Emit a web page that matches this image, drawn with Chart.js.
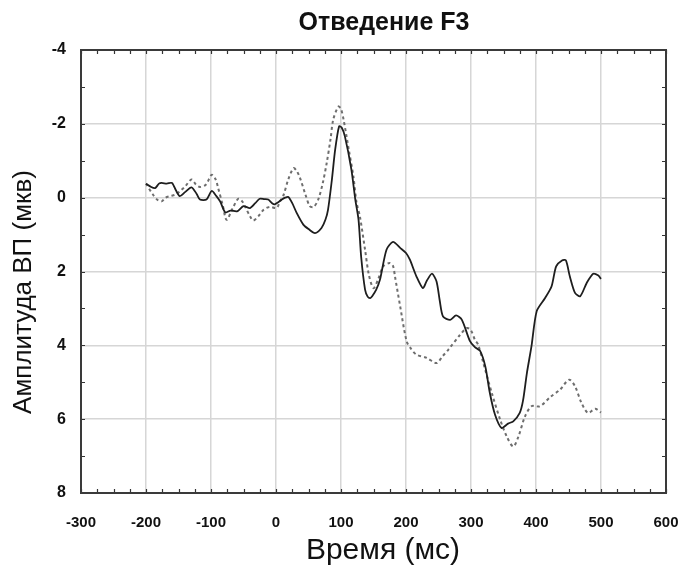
<!DOCTYPE html>
<html>
<head>
<meta charset="utf-8">
<script src="https://cdn.jsdelivr.net/npm/chart.js@4/dist/chart.umd.min.js"></script>
<style>
  html, body { margin: 0; padding: 0; background: #ffffff; }
  #wrap { width: 684px; height: 566px; position: relative; }
</style>
</head>
<body>
<div id="wrap"><canvas id="c" width="684" height="566"></canvas></div>
<script>
const chartTitle = "Отведение F3";
const xAxisTitle = "Время (мс)";
const yAxisTitle = "Амплитуда ВП (мкв)";
const xTickValues = [-300, -200, -100, 0, 100, 200, 300, 400, 500, 600];
const yTickValues = [-4, -2, 0, 2, 4, 6, 8];

const solidTimes = [-200,-193,-186,-180,-176,-168,-160,-154,-148,-140,-130,-122,-117,-107,-99,-92,-86,-78,-70,-60,-50,-40,-32,-25,-18,-12,-6,-2,4,9,14,19,25,32,42,50,60,70,76,80,86,91,97,101,106,116,122,127,131,137,141,145,148,154,160,170,180,191,200,206,216,226,232,240,247,252,257,268,277,286,298,306,314,322,329,337,347,357,365,375,380,386,393,401,414,424,431,440,446,452,460,468,478,488,496,500];
const solidValues = [-0.38,-0.30,-0.26,-0.38,-0.40,-0.38,-0.40,-0.20,-0.04,-0.15,-0.28,-0.10,0.05,0.05,-0.18,-0.05,0.10,0.40,0.35,0.37,0.23,0.28,0.15,0.03,0.04,0.05,0.15,0.18,0.12,0.05,0.00,-0.02,0.15,0.42,0.73,0.85,0.96,0.82,0.60,0.33,-0.49,-1.30,-1.93,-1.90,-1.66,-0.76,0.05,0.60,1.60,2.49,2.68,2.72,2.67,2.50,2.22,1.41,1.20,1.36,1.50,1.68,2.13,2.45,2.25,2.06,2.27,2.80,3.22,3.31,3.19,3.31,3.87,4.05,4.15,4.57,5.29,5.88,6.24,6.12,6.06,5.83,5.50,4.75,4.03,3.08,2.72,2.40,1.86,1.70,1.70,2.13,2.58,2.67,2.31,2.06,2.11,2.20];

const dashedTimes = [-200,-190,-183,-176,-170,-163,-155,-148,-140,-130,-123,-117,-108,-99,-93,-89,-82,-76,-67,-58,-52,-48,-40,-35,-27,-19,-10,1,6,11,19,27,32,37,45,52,58,65,72,78,84,88,96,100,104,112,119,124,129,137,143,150,157,165,175,180,183,191,201,208,216,232,247,256,265,283,294,300,306,311,319,332,345,355,365,373,383,393,406,422,437,451,460,470,480,491,500];
const dashedValues = [-0.38,-0.10,0.05,0.10,0.00,-0.04,-0.08,-0.17,-0.30,-0.49,-0.35,-0.29,-0.35,-0.62,-0.50,-0.26,0.20,0.60,0.30,0.03,0.10,0.23,0.50,0.62,0.50,0.33,0.25,0.28,0.10,-0.04,-0.50,-0.80,-0.72,-0.53,-0.10,0.23,0.25,0.05,-0.40,-0.94,-1.60,-2.11,-2.47,-2.40,-2.11,-1.30,-0.58,0.14,0.50,1.41,2.10,2.45,2.22,1.86,1.77,1.85,2.13,2.94,3.89,4.10,4.25,4.34,4.48,4.30,4.12,3.72,3.53,3.60,3.85,3.98,4.48,5.29,6.02,6.47,6.74,6.47,5.93,5.65,5.65,5.40,5.20,4.93,5.11,5.56,5.83,5.72,5.82];

function toPoints(ts, vs) { return ts.map((t, i) => ({ x: t, y: vs[i] })); }

const frameAndText = {
  id: 'frameAndText',
  afterDraw(chart) {
    const ctx = chart.ctx;
    const a = chart.chartArea;
    const xs = chart.scales.x, ys = chart.scales.y;
    ctx.save();
    ctx.strokeStyle = '#333';
    ctx.lineWidth = 1.2;
    ctx.beginPath();
    for (let t = xTickValues[0]; t <= xTickValues[xTickValues.length - 1]; t += 25) {
      const px = Math.round(xs.getPixelForValue(t)) + 0.5;
      ctx.moveTo(px, a.bottom); ctx.lineTo(px, a.bottom - 4);
      ctx.moveTo(px, a.top); ctx.lineTo(px, a.top + 4);
    }
    for (let v = yTickValues[0]; v <= yTickValues[yTickValues.length - 1]; v += 1) {
      const py = Math.round(ys.getPixelForValue(v)) + 0.5;
      ctx.moveTo(a.left, py); ctx.lineTo(a.left + 4, py);
      ctx.moveTo(a.right, py); ctx.lineTo(a.right - 4, py);
    }
    ctx.stroke();
    ctx.strokeStyle = '#3a3a3a';
    ctx.lineWidth = 2;
    ctx.strokeRect(a.left, a.top, a.right - a.left, a.bottom - a.top);
    ctx.fillStyle = '#111';
    ctx.textAlign = 'center';
    ctx.textBaseline = 'middle';
    ctx.font = 'bold 25px "Liberation Sans", Arial, sans-serif';
    ctx.fillText(chartTitle, 384, 23);
    ctx.font = '30px "Liberation Sans", Arial, sans-serif';
    ctx.fillText(xAxisTitle, 383, 551);
    ctx.translate(24, 292);
    ctx.rotate(-Math.PI / 2);
    ctx.font = '26px "Liberation Sans", Arial, sans-serif';
    ctx.fillText(yAxisTitle, 0, 0);
    ctx.restore();
  }
};

new Chart(document.getElementById('c'), {
  type: 'line',
  data: {
    datasets: [
      {
        label: 'solid',
        data: toPoints(solidTimes, solidValues),
        borderColor: '#1e1e1e',
        borderWidth: 1.8,
        pointRadius: 0,
        tension: 0.25,
        fill: false
      },
      {
        label: 'dashed',
        data: toPoints(dashedTimes, dashedValues),
        borderColor: '#6e6e6e',
        borderWidth: 2,
        borderDash: [3, 3],
        pointRadius: 0,
        tension: 0.3,
        fill: false
      }
    ]
  },
  options: {
    responsive: false,
    animation: false,
    devicePixelRatio: 1,
    layout: { padding: { top: 50, right: 0, bottom: 0, left: 0 } },
    plugins: {
      legend: { display: false },
      tooltip: { enabled: false },
      title: { display: false }
    },
    scales: {
      x: {
        type: 'linear',
        min: -300,
        max: 600,
        afterBuildTicks(scale) { scale.ticks = xTickValues.map(v => ({ value: v })); },
        afterFit(scale) { scale.height = 73; scale.paddingRight = 18; },
        grid: { color: '#d6d6d6', lineWidth: 1.5, drawTicks: false },
        border: { display: false },
        ticks: {
          color: '#111',
          padding: 21,
          maxRotation: 0,
          autoSkip: false,
          font: { family: '"Liberation Sans", Arial, sans-serif', size: 15, weight: 'bold' }
        }
      },
      y: {
        type: 'linear',
        reverse: true,
        min: -4,
        max: 8,
        afterBuildTicks(scale) { scale.ticks = yTickValues.map(v => ({ value: v })); },
        afterFit(scale) { scale.width = 81; },
        grid: { color: '#d6d6d6', lineWidth: 1.5, drawTicks: false },
        border: { display: false },
        ticks: {
          color: '#111',
          padding: 15,
          autoSkip: false,
          font: { family: '"Liberation Sans", Arial, sans-serif', size: 16, weight: 'bold' }
        }
      }
    }
  },
  plugins: [frameAndText]
});
</script>
</body>
</html>
